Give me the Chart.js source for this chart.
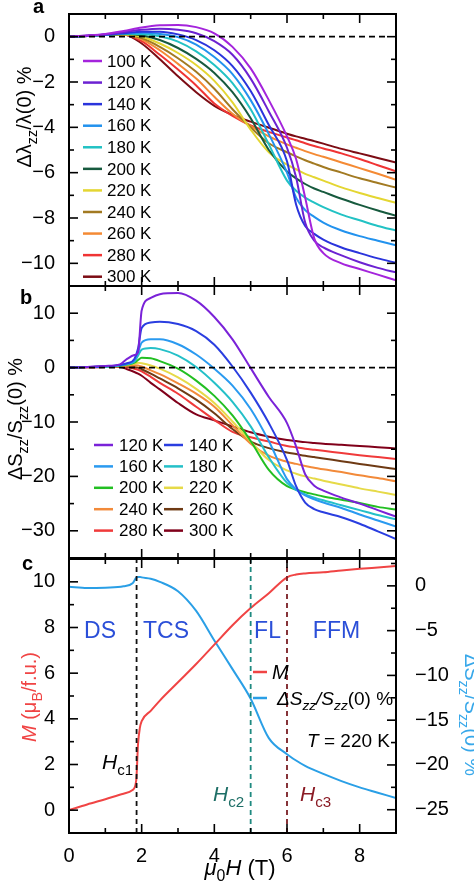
<!DOCTYPE html>
<html>
<head>
<meta charset="utf-8">
<script src="https://cdn.jsdelivr.net/npm/chart.js@4.4.1/dist/chart.umd.min.js"></script>
<style>
  html, body { margin: 0; padding: 0; background: #fff; }
  #wrap { position: relative; width: 474px; height: 881px; overflow: hidden; }
  canvas { position: absolute; left: 0; }
</style>
</head>
<body>
<div id="wrap">
  <canvas id="chartA" width="474" height="290" style="top:0px"></canvas>
  <canvas id="chartB" width="474" height="282" style="top:280px"></canvas>
  <canvas id="chartC" width="474" height="329" style="top:552px"></canvas>
</div>
<script>
// ---- panel a: Δλzz/λ(0) % vs field ----
const fieldA = [0, 0.5, 1, 1.5, 2, 2.5, 3, 3.5, 4, 4.5, 5, 5.5, 6, 6.25, 6.5, 6.75, 7, 7.5, 8, 8.5, 9];
const tempsA = ['100 K', '120 K', '140 K', '160 K', '180 K', '200 K', '220 K', '240 K', '260 K', '280 K', '300 K'];
const lam100 = [0, 0.05, 0.12, 0.25, 0.4, 0.5, 0.52, 0.42, 0.15, -0.45, -1.4, -2.8, -4.4, -5.4, -7.1, -8.9, -9.55, -10.0, -10.25, -10.5, -10.75];
const lam120 = [0, 0.05, 0.1, 0.2, 0.3, 0.35, 0.3, 0.15, -0.2, -0.8, -1.85, -3.3, -4.9, -6.2, -8.2, -9.0, -9.3, -9.65, -9.95, -10.2, -10.4];
const lam140 = [0, 0.04, 0.1, 0.15, 0.22, 0.22, 0.1, -0.15, -0.6, -1.3, -2.4, -3.9, -5.5, -7.4, -8.35, -8.7, -8.95, -9.3, -9.55, -9.78, -9.98];
const lam160 = [0, 0.03, 0.08, 0.15, 0.17, 0.12, -0.02, -0.35, -0.9, -1.65, -2.8, -4.3, -6.0, -7.1, -7.65, -7.95, -8.2, -8.55, -8.8, -9.0, -9.2];
const lam180 = [0, 0.03, 0.08, 0.13, 0.12, 0.02, -0.22, -0.65, -1.25, -2.05, -3.2, -4.75, -6.35, -6.8, -7.1, -7.32, -7.52, -7.85, -8.1, -8.35, -8.55];
const lam200 = [0, 0.03, 0.07, 0.12, 0.06, -0.15, -0.5, -0.98, -1.6, -2.45, -3.6, -5.0, -5.95, -6.25, -6.5, -6.7, -6.85, -7.15, -7.42, -7.67, -7.9];
const lam220 = [0, 0.03, 0.07, 0.1, 0.0, -0.3, -0.72, -1.25, -1.95, -2.9, -4.1, -5.1, -5.65, -5.85, -6.05, -6.2, -6.35, -6.65, -6.9, -7.12, -7.33];
const lam240 = [0, 0.03, 0.07, 0.1, -0.06, -0.45, -0.95, -1.55, -2.3, -3.2, -4.0, -4.7, -5.1, -5.28, -5.45, -5.6, -5.75, -6.0, -6.25, -6.46, -6.66];
const lam260 = [0, 0.03, 0.07, 0.1, -0.12, -0.6, -1.2, -1.85, -2.65, -3.4, -3.95, -4.4, -4.75, -4.9, -5.05, -5.18, -5.3, -5.55, -5.8, -6.05, -6.31];
const lam280 = [0, 0.03, 0.07, 0.1, -0.2, -0.8, -1.45, -2.15, -2.95, -3.5, -3.92, -4.2, -4.45, -4.57, -4.7, -4.82, -4.93, -5.15, -5.4, -5.67, -5.94];
const lam300 = [0, 0.03, 0.07, 0.1, -0.3, -1.0, -1.75, -2.45, -3.05, -3.45, -3.75, -4.02, -4.28, -4.4, -4.5, -4.61, -4.72, -4.95, -5.15, -5.35, -5.55];
const yTicksA = [0, -2, -4, -6, -8, -10];

// ---- panel b: ΔSzz/Szz(0) % vs field ----
const fieldB = [0, 0.5, 1, 1.4, 1.6, 1.8, 1.9, 2, 2.25, 2.5, 3, 3.5, 4, 4.5, 5, 5.5, 6, 6.25, 6.5, 6.75, 7, 7.5, 8, 8.5, 9];
const tempsB = ['120 K', '140 K', '160 K', '180 K', '200 K', '220 K', '240 K', '260 K', '280 K', '300 K'];
const s120 = [0, 0.1, 0.3, 0.6, 1.6, 2.3, 2.8, 10.5, 12.8, 13.5, 13.7, 12.3, 9.3, 5.2, -0.1, -5.4, -10.2, -14.5, -19.6, -21.7, -22.6, -23.9, -25.0, -26.2, -27.4];
const s140 = [0, 0.1, 0.25, 0.5, 0.8, 1.6, 3.5, 7.3, 8.3, 8.45, 8.0, 6.7, 4.2, 0.2, -4.6, -10.2, -17.0, -21.8, -24.8, -26.0, -26.6, -27.5, -28.7, -30.1, -31.5];
const s160 = [0, 0.1, 0.2, 0.45, 0.7, 1.3, 2.8, 4.6, 5.2, 5.2, 4.3, 2.4, -0.2, -3.3, -7.6, -13.5, -20.5, -22.4, -23.5, -24.2, -24.8, -25.8, -27.0, -28.1, -29.2];
const s180 = [0, 0.1, 0.2, 0.4, 0.65, 1.1, 2.2, 3.3, 3.6, 3.4, 2.2, 0.1, -2.8, -6.3, -10.8, -16.5, -21.2, -22.5, -23.3, -23.9, -24.4, -25.3, -26.2, -27.1, -27.9];
const s200 = [0, 0.1, 0.2, 0.35, 0.55, 0.9, 1.4, 1.8, 1.7, 1.2, -0.2, -2.4, -5.2, -8.8, -13.5, -18.8, -21.8, -22.4, -22.9, -23.3, -23.7, -24.3, -24.9, -25.6, -26.1];
const s220 = [0, 0.1, 0.2, 0.3, 0.5, 0.75, 0.9, 0.8, 0.4, -0.2, -1.8, -3.9, -6.5, -9.9, -13.6, -17.0, -18.9, -19.5, -20.0, -20.4, -20.8, -21.5, -22.2, -22.8, -23.4];
const s240 = [0, 0.1, 0.15, 0.25, 0.35, 0.45, 0.4, 0.2, -0.5, -1.2, -2.9, -4.8, -7.2, -10.6, -14.0, -16.2, -17.3, -17.7, -18.1, -18.4, -18.7, -19.2, -19.8, -20.3, -20.9];
const s260 = [0, 0.1, 0.15, 0.2, 0.2, 0.1, 0.0, -0.3, -1.1, -2.0, -3.8, -5.9, -8.4, -11.3, -13.6, -14.8, -15.6, -15.9, -16.2, -16.45, -16.7, -17.2, -17.7, -18.2, -18.65];
const s280 = [0, 0.05, 0.1, 0.15, 0.05, -0.2, -0.4, -0.7, -1.7, -2.8, -4.8, -7.2, -9.6, -11.8, -12.8, -13.6, -14.4, -14.65, -14.9, -15.1, -15.3, -15.7, -16.1, -16.45, -16.8];
const s300 = [0, 0.05, 0.1, 0.1, -0.3, -0.8, -1.1, -1.5, -2.8, -4.0, -6.5, -8.6, -9.7, -10.8, -11.9, -12.7, -13.3, -13.5, -13.7, -13.85, -14.0, -14.2, -14.4, -14.65, -14.85];
const yTicksB = [10, 0, -10, -20, -30];

// ---- panel c: M and ΔSzz/Szz(0) at 220 K ----
const fieldC = [0, 0.5, 1, 1.5, 1.75, 1.85, 1.9, 1.95, 2, 2.25, 2.5, 3, 3.5, 4, 4.5, 5, 5.5, 6, 6.25, 6.5, 7, 7.5, 8, 8.5, 9];
const magM = [0, 0.25, 0.48, 0.72, 0.88, 1.3, 2.9, 3.6, 3.9, 4.35, 4.8, 5.6, 6.4, 7.25, 8.1, 8.85, 9.5, 10.2, 10.32, 10.37, 10.42, 10.5, 10.57, 10.63, 10.69];
const strain220 = [-0.1, -0.25, -0.2, -0.05, 0.3, 0.9, 1.0, 1.0, 0.95, 0.8, 0.45, -0.6, -2.8, -6.1, -9.3, -12.6, -17.0, -18.8, -19.5, -20.1, -21.0, -21.8, -22.5, -23.1, -23.7];
const criticalFields = [1.86, 5, 6];
const yTicksC = [0, 2, 4, 6, 8, 10];
const y2TicksC = [0, -5, -10, -15, -20, -25];
const xTicks = [0, 2, 4, 6, 8];

const FONT = '"Liberation Sans", Arial, Helvetica, sans-serif';
const colorsA = ['#a424dc', '#6c22d2', '#2a34dc', '#2292ee', '#22c2c4', '#175a3e', '#e4d632', '#a27a22', '#f48a34', '#f03434', '#7c0c14'];
const colorsB = ['#7a22d8', '#2a3ee0', '#2a9af0', '#24c0c8', '#22bf22', '#e6da48', '#f28a3a', '#6e3a14', '#f03a3a', '#80001a'];
const blueText = '#2b4fd8';

const fmt = v => v < 0 ? '\u2212' + Math.abs(v) : String(v);
const pts = (xs, ys) => xs.map((x, i) => ({ x: x, y: ys[i] }));
const range = (a, b, step) => { const r = []; for (let v = a; v <= b + 1e-9; v += step) r.push(+v.toFixed(2)); return r; };

function curve(label, color, xs, ys, axis) {
    return { label, data: pts(xs, ys), borderColor: color, borderWidth: 2, pointRadius: 0,
             cubicInterpolationMode: 'monotone', fill: false, yAxisID: axis || 'y' };
}
function guide(xs, ys, color, dash) {
    return { label: '', data: pts(xs, ys), borderColor: color, borderWidth: 1.8, borderDash: dash || [6, 4],
             pointRadius: 0, fill: false, yAxisID: 'y' };
}

function line(ctx, x1, y1, x2, y2) {
    ctx.beginPath(); ctx.moveTo(x1, y1); ctx.lineTo(x2, y2); ctx.stroke();
}

// text with italic parts and subscripts, centred (or aligned) on a point, optionally rotated
function rich(ctx, parts, cx, cy, size, color, rot, align) {
    ctx.save();
    ctx.translate(cx, cy);
    ctx.rotate(rot || 0);
    ctx.fillStyle = color;
    ctx.textBaseline = 'alphabetic';
    ctx.textAlign = 'left';
    let w = 0;
    const items = parts.map(p => {
        const st = p[1] || '';
        const sub = st.includes('s');
        const fs = sub ? size * 0.72 : size;
        const font = (st.includes('i') ? 'italic ' : '') + fs + 'px ' + FONT;
        ctx.font = font;
        const mw = ctx.measureText(p[0]).width;
        w += mw;
        return { t: p[0], font, w: mw, dy: sub ? size * 0.28 : 0 };
    });
    let x = align === 'left' ? 0 : align === 'right' ? -w : -w / 2;
    items.forEach(it => {
        ctx.font = it.font;
        ctx.fillText(it.t, x, size * 0.35 + it.dy);
        x += it.w;
    });
    ctx.restore();
}

// box + inward ticks on all four sides
function frame(chart, sides) {
    const { ctx, chartArea: a } = chart;
    const xs = chart.scales.x;
    ctx.save();
    ctx.strokeStyle = '#000';
    ctx.lineWidth = 1.6;
    for (let v = 1; v < 9; v++) {
        const px = xs.getPixelForValue(v), len = v % 2 === 0 ? 9 : 5;
        line(ctx, px, a.top, px, a.top + len);
        line(ctx, px, a.bottom, px, a.bottom - len);
    }
    sides.forEach(sd => {
        const s = chart.scales[sd.axis];
        sd.values.forEach(v => {
            const py = s.getPixelForValue(v), len = sd.major.includes(v) ? 9 : 5;
            if (sd.side !== 'right') line(ctx, a.left, py, a.left + len, py);
            if (sd.side !== 'left') line(ctx, a.right, py, a.right - len, py);
        });
    });
    ctx.lineWidth = 2;
    ctx.strokeRect(a.left, a.top, a.right - a.left, a.bottom - a.top);
    ctx.restore();
}

function letter(ctx, t, x, y) {
    ctx.save();
    ctx.font = 'bold 20px ' + FONT;
    ctx.fillStyle = '#000';
    ctx.textBaseline = 'alphabetic';
    ctx.fillText(t, x, y);
    ctx.restore();
}

function yAxis(min, max, ticks, width, position) {
    return {
        type: 'linear', position: position || 'left', min, max,
        grid: { display: false }, border: { display: false },
        ticks: { font: { family: FONT, size: 20 }, color: '#000', padding: position === 'right' ? 11 : 6, callback: v => fmt(v) },
        afterBuildTicks: s => { s.ticks = ticks.map(v => ({ value: v })); },
        afterFit: s => { s.width = width; s.paddingTop = 0; s.paddingBottom = 0; }
    };
}

const baseOpts = {
    responsive: false, animation: false, events: [],
    plugins: { legend: { display: false }, tooltip: { enabled: false } }
};

// ---------- a ----------
const seriesA = [lam100, lam120, lam140, lam160, lam180, lam200, lam220, lam240, lam260, lam280, lam300];
new Chart(document.getElementById('chartA'), {
    type: 'line',
    data: {
        datasets: [guide([0, 8.8], [0, 0], '#000')]
            .concat(seriesA.map((s, i) => curve(tempsA[i], colorsA[i], fieldA, s)))
    },
    options: Object.assign({}, baseOpts, {
        layout: { padding: { top: 14, right: 78, bottom: 4, left: 0 } },
        scales: {
            x: { type: 'linear', min: 0, max: 9, display: false },
            y: yAxis(-11, 1, yTicksA, 69)
        }
    }),
    plugins: [{
        id: 'decoA',
        afterDraw(chart) {
            const ctx = chart.ctx;
            frame(chart, [{ axis: 'y', side: 'both', values: range(-10, 0, 1), major: yTicksA }]);
            tempsA.forEach((t, i) => {
                const y = 61 + i * 21.57;
                ctx.save();
                ctx.strokeStyle = colorsA[i]; ctx.lineWidth = 2.5;
                line(ctx, 83, y, 102, y);
                ctx.fillStyle = '#000'; ctx.font = '17px ' + FONT; ctx.textBaseline = 'middle';
                ctx.fillText(t, 107, y + 1);
                ctx.restore();
            });
            rich(ctx, [['Δλ'], ['zz', 's'], ['/λ(0) %']], 24, 117, 20, '#000', -Math.PI / 2);
            letter(ctx, 'a', 33, 13);
        }
    }]
});

// ---------- b ----------
const seriesB = [s120, s140, s160, s180, s200, s220, s240, s260, s280, s300];
new Chart(document.getElementById('chartB'), {
    type: 'line',
    data: {
        datasets: [guide([0, 8.8], [0, 0], '#000')]
            .concat(seriesB.map((s, i) => curve(tempsB[i], colorsB[i], fieldB, s)))
    },
    options: Object.assign({}, baseOpts, {
        layout: { padding: { top: 6, right: 78, bottom: 4, left: 0 } },
        scales: {
            x: { type: 'linear', min: 0, max: 9, display: false },
            y: yAxis(-35, 15, yTicksB, 69)
        }
    }),
    plugins: [{
        id: 'decoB',
        afterDraw(chart) {
            const ctx = chart.ctx;
            frame(chart, [{ axis: 'y', side: 'both', values: range(-30, 10, 5), major: yTicksB }]);
            tempsB.forEach((t, i) => {
                const col = i % 2, row = Math.floor(i / 2);
                const y = 165 + row * 21.4;
                const x0 = col ? 164 : 94;
                ctx.save();
                ctx.strokeStyle = colorsB[i]; ctx.lineWidth = 2.5;
                line(ctx, x0, y, x0 + 19, y);
                ctx.fillStyle = '#000'; ctx.font = '17px ' + FONT; ctx.textBaseline = 'middle';
                ctx.fillText(t, x0 + 25, y + 1);
                ctx.restore();
            });
            rich(ctx, [['ΔS'], ['zz', 's'], ['/S'], ['zz', 's'], ['(0) %']], 15, 139, 20, '#000', -Math.PI / 2);
            letter(ctx, 'b', 20, 24);
        }
    }]
});

// ---------- c ----------
const guideColors = ['#111111', '#1f8a80', '#7a1e24'];
new Chart(document.getElementById('chartC'), {
    type: 'line',
    data: {
        datasets: criticalFields.map((h, i) => guide([h, h], [-1, 11], guideColors[i], [5, 4]))
            .concat([
                curve('M', '#f04444', fieldC, magM, 'y'),
                curve('ΔSzz/Szz(0) %', '#2a9fe6', fieldC, strain220, 'y2')
            ])
    },
    options: Object.assign({}, baseOpts, {
        layout: { padding: { top: 7, right: 0, bottom: 0, left: 0 } },
        scales: {
            x: {
                type: 'linear', min: 0, max: 9,
                grid: { display: false }, border: { display: false },
                ticks: { font: { family: FONT, size: 20 }, color: '#000', padding: 3, maxRotation: 0, callback: v => fmt(v) },
                afterBuildTicks: s => { s.ticks = xTicks.map(v => ({ value: v })); },
                afterFit: s => { s.height = 48; s.paddingLeft = 0; s.paddingRight = 0; }
            },
            y: yAxis(-1, 11, yTicksC, 69),
            y2: yAxis(-27.6, 3, y2TicksC, 78, 'right')
        }
    }),
    plugins: [{
        id: 'decoC',
        afterDraw(chart) {
            const ctx = chart.ctx;
            frame(chart, [
                { axis: 'y', side: 'left', values: range(0, 10, 1), major: yTicksC },
                { axis: 'y2', side: 'right', values: range(-25, 2.5, 2.5), major: y2TicksC }
            ]);
            // phase labels
            [['DS', 100], ['TCS', 166], ['FL', 267.5], ['FFM', 336.5]].forEach(p =>
                rich(ctx, [[p[0]]], p[1], 78, 23, blueText, 0));
            rich(ctx, [['H', 'i'], ['c1', 's']], 102, 210, 21, '#000', 0, 'left');
            rich(ctx, [['H', 'i'], ['c2', 's']], 213, 242, 21, '#1d6e66', 0, 'left');
            rich(ctx, [['H', 'i'], ['c3', 's']], 300, 242, 21, '#8a1a24', 0, 'left');
            // legend
            ctx.save();
            ctx.lineWidth = 2.5;
            ctx.strokeStyle = '#f04444'; line(ctx, 253, 120, 267, 120);
            ctx.strokeStyle = '#2a9fe6'; line(ctx, 253, 146, 267, 146);
            ctx.restore();
            rich(ctx, [['M', 'i']], 272, 120, 20, '#000', 0, 'left');
            rich(ctx, [['Δ', 'i'], ['S', 'i'], ['zz', 'si'], ['/', 'i'], ['S', 'i'], ['zz', 'si'], ['(0) %']], 277, 146, 19, '#000', 0, 'left');
            rich(ctx, [['T', 'i'], [' = 220 K']], 390, 188, 19, '#000', 0, 'right');
            // axis titles
            rich(ctx, [['M', 'i'], [' (μ'], ['B', 's'], ['/f.u.)']], 29, 145, 20, '#f04444', -Math.PI / 2);
            rich(ctx, [['ΔS'], ['zz', 's'], ['/S'], ['zz', 's'], ['(0) %']], 472, 163, 20, '#38a8ea', Math.PI / 2);
            rich(ctx, [['μ', 'i'], ['0', 's'], ['H', 'i'], [' (T)']], 240, 315, 22, '#000', 0);
            letter(ctx, 'c', 22, 18);
        }
    }]
});
</script>
</body>
</html>
